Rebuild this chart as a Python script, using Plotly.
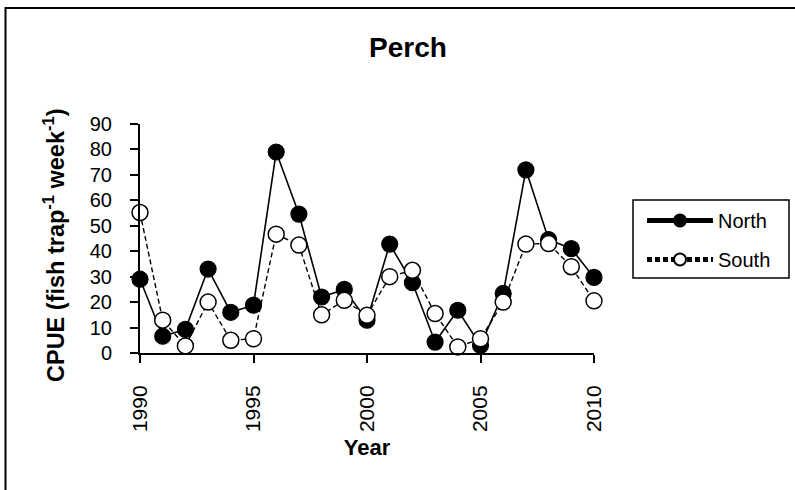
import plotly.graph_objects as go

years = list(range(1990, 2011))
north = [29, 6.6, 9.3, 33, 16, 18.8, 79, 54.6, 22, 25, 12.9, 42.8, 27.6, 4.3, 16.8, 3, 23.4, 72, 44.6, 41, 29.7]
south = [55.2, 12.9, 2.8, 20, 5, 5.6, 46.7, 42.4, 15, 20.7, 14.8, 30, 32.5, 15.5, 2.4, 5.6, 20, 42.8, 43, 33.9, 20.5]
x_ticks = [1990, 1995, 2000, 2005, 2010]
y_ticks = list(range(0, 100, 10))

FONT = "Arial, Liberation Sans, sans-serif"
W, H = 795, 490
L, R, T, B = 140, 201, 124, 137
pw, ph = W - L - R, H - T - B

def px2paper_x(px):
    return (px - L) / pw

def px2paper_y(py):
    return (H - B - py) / ph

fig = go.Figure()
fig.add_trace(go.Scatter(
    x=years, y=north, name="North", mode="lines+markers",
    line=dict(color="black", width=1.6),
    marker=dict(symbol="circle", size=16, color="black", line=dict(color="black", width=1.2)),
    cliponaxis=False, legendgroup="n",
))
fig.add_trace(go.Scatter(
    x=years, y=south, name="South", mode="lines+markers",
    line=dict(color="black", width=1.4, dash="5px,3px"),
    marker=dict(symbol="circle", size=16, color="white", line=dict(color="black", width=1.5)),
    cliponaxis=False, legendgroup="s",
))

fig.update_layout(
    width=W, height=H,
    margin=dict(l=L, r=R, t=T, b=B, autoexpand=False),
    paper_bgcolor="white", plot_bgcolor="white",
    font=dict(family=FONT, color="black"),
    title=dict(text="<b>Perch</b>", font=dict(size=28, family=FONT, color="black"),
               x=408 / W, xanchor="center", xref="container",
               y=1 - 47 / H, yanchor="middle", yref="container"),
    showlegend=True,
    legend=dict(
        x=px2paper_x(642), y=px2paper_y(201), xanchor="left", yanchor="top",
        borderwidth=0, bgcolor="rgba(0,0,0,0)",
        font=dict(size=20, family=FONT, color="black"),
        itemsizing="constant", itemwidth=66, tracegroupgap=10,
    ),
    xaxis=dict(
        range=[1990, 2010], tickvals=x_ticks, ticktext=[str(v) for v in x_ticks],
        tickangle=-90, ticks="outside", ticklen=8, tickwidth=1.5, tickcolor="black",
        showline=True, linecolor="black", linewidth=2, showgrid=False, zeroline=False,
        tickfont=dict(size=21, family=FONT, color="black"), ticklabelstandoff=14,
        title=dict(text="<b>Year</b>", font=dict(size=22, family=FONT, color="black"), standoff=8),
    ),
    yaxis=dict(
        range=[0, 90], tickvals=y_ticks, ticks="outside", ticklen=8, tickwidth=1.5, tickcolor="black",
        showline=True, linecolor="black", linewidth=2, showgrid=False, zeroline=False,
        tickfont=dict(size=20, family=FONT, color="black"), ticklabelstandoff=14,
    ),
    annotations=[dict(
        text="<b>CPUE (fish trap<sup>-1</sup> week<sup>-1</sup>)</b>",
        xref="paper", yref="paper", x=px2paper_x(54), y=px2paper_y(246),
        xanchor="center", yanchor="middle", textangle=-90, showarrow=False,
        font=dict(size=23.5, family=FONT, color="black"),
    )],
    shapes=[
        dict(type="rect", xref="paper", yref="paper",
             x0=px2paper_x(5.5), x1=px2paper_x(810), y0=px2paper_y(505), y1=px2paper_y(8),
             line=dict(color="black", width=2), fillcolor="rgba(0,0,0,0)", layer="below"),
        dict(type="rect", xref="paper", yref="paper",
             x0=px2paper_x(633), x1=px2paper_x(789), y0=px2paper_y(278), y1=px2paper_y(200),
             line=dict(color="black", width=1.5), fillcolor="white", layer="below"),
    ],
)

fig.write_html("out.html")
